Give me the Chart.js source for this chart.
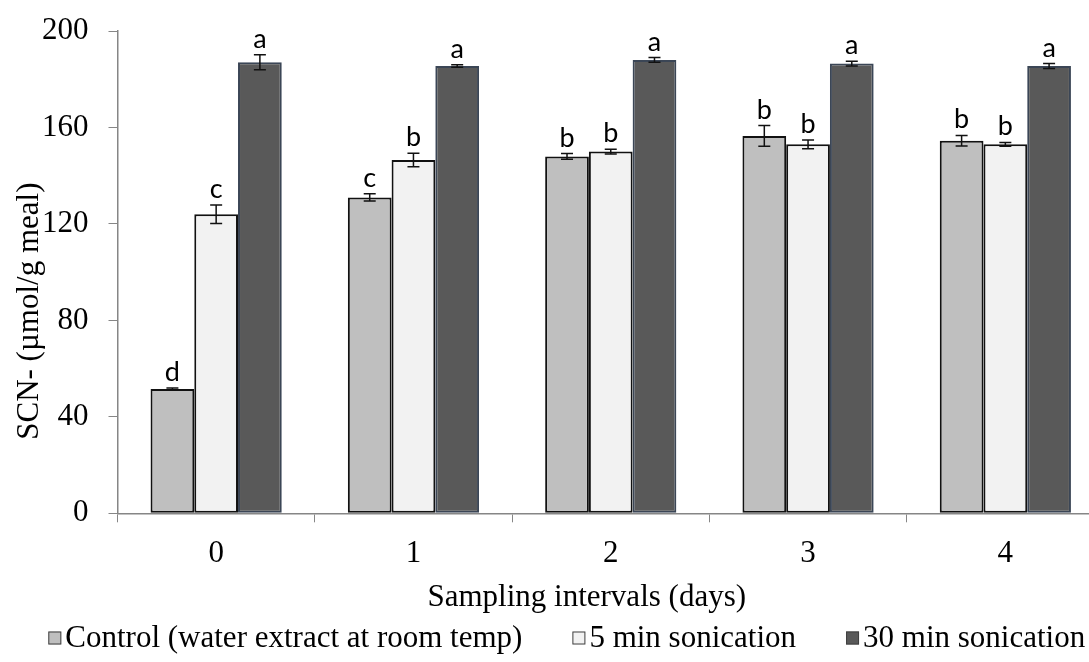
<!DOCTYPE html>
<html>
<head>
<meta charset="utf-8">
<title>SCN- over sampling intervals</title>
<script src="https://cdn.jsdelivr.net/npm/chart.js@4/dist/chart.umd.min.js"></script>
<style>
  html, body { margin: 0; padding: 0; background: #fff; overflow: hidden; }
  #wrap { width: 1104px; height: 662px; }
</style>
</head>
<body>
<div id="wrap"><canvas id="myChart"></canvas></div>
<script>
'use strict';

// ******* DATA *******

let days = ['0', '1', '2', '3', '4'];
let seriesNames = ['Control (water extract at room temp)', '5 min sonication', '30 min sonication'];

let controlVals = [51.5, 131, 148, 156.5, 154.5];
let fiveMinVals = [124, 146.5, 150, 153, 153];
let thirtyMinVals = [187, 185.5, 188, 186.5, 185.5];

let controlErr = [0.5, 1.5, 1.2, 4.3, 2.2];
let fiveMinErr = [3.8, 2.8, 1.0, 1.8, 0.8];
let thirtyMinErr = [3.1, 0.5, 1.0, 1.0, 1.0];

let controlLetters = ['d', 'c', 'b', 'b', 'b'];
let fiveMinLetters = ['c', 'b', 'b', 'b', 'b'];
let thirtyMinLetters = ['a', 'a', 'a', 'a', 'a'];

let yTicks = [0, 40, 80, 120, 160, 200];

let xTitle = 'Sampling intervals (days)';
let yTitle = 'SCN- (\u00b5mol/g meal)';


// ******* STYLE *******

let serif = "'Liberation Serif', 'Times New Roman', serif";
let axisGray = '#868686';
let textSize = 31;


// ******* PLUGINS *******

// error bars + significance letters on top of every bar
let errorBarPlugin = {
  id: 'errorBars',
  afterDatasetsDraw(chart) {
    let ctx = chart.ctx;
    let yScale = chart.scales.y;
    ctx.save();
    chart.data.datasets.forEach((ds, di) => {
      let meta = chart.getDatasetMeta(di);
      meta.data.forEach((bar, i) => {
        let v = ds.data[i];
        let e = ds.errors[i];
        let yTop = yScale.getPixelForValue(v + e);
        let yBot = yScale.getPixelForValue(v - e);
        let x = bar.x;
        ctx.strokeStyle = '#111';
        ctx.lineWidth = 1.5;
        ctx.beginPath();
        ctx.moveTo(x, yTop);
        ctx.lineTo(x, yBot);
        ctx.moveTo(x - 6, yTop);
        ctx.lineTo(x + 6, yTop);
        ctx.moveTo(x - 6, yBot);
        ctx.lineTo(x + 6, yBot);
        ctx.stroke();

        ctx.fillStyle = '#000';
        ctx.font = "27px Lato, 'Open Sans', sans-serif";
        ctx.textAlign = 'center';
        ctx.textBaseline = 'alphabetic';
        ctx.fillText(ds.letters[i], x, yTop - 7);
      });
    });
    ctx.restore();
  }
};

// axis titles and the bottom legend
let extrasPlugin = {
  id: 'extras',
  afterDraw(chart) {
    let ctx = chart.ctx;
    let area = chart.chartArea;
    let midX = (area.left + area.right) / 2;

    ctx.save();
    ctx.fillStyle = '#000';
    ctx.font = textSize + 'px ' + serif;
    ctx.textAlign = 'center';
    ctx.textBaseline = 'middle';
    ctx.fillText(xTitle, midX - 24, 598);
    ctx.translate(area.left - 88, (area.top + area.bottom) / 2 + 39);
    ctx.rotate(-Math.PI / 2);
    ctx.fillText(yTitle, 0, 0);
    ctx.restore();

    ctx.save();
    ctx.font = textSize + 'px ' + serif;
    ctx.textBaseline = 'middle';
    let box = 13;
    let gap = 4;
    let spacing = 50;
    let widths = chart.data.datasets.map(ds => box + gap + ctx.measureText(ds.label).width);
    let total = widths.reduce((a, b) => a + b, 0) + spacing * (widths.length - 1);
    let x = midX - 44 - total / 2;
    let y = 638;
    chart.data.datasets.forEach((ds, i) => {
      ctx.fillStyle = ds.backgroundColor;
      ctx.fillRect(x, y - box / 2, box, box);
      ctx.strokeStyle = '#404040';
      ctx.lineWidth = 1;
      ctx.strokeRect(x + 0.5, y - box / 2 + 0.5, box - 1, box - 1);
      ctx.fillStyle = '#000';
      ctx.textAlign = 'left';
      ctx.fillText(ds.label, x + box + gap, y + 1);
      x += widths[i] + spacing;
    });
    ctx.restore();
  }
};


// ******* CHART *******

const ctx = document.getElementById('myChart').getContext('2d');
const myChart = new Chart(ctx, {
  type: 'bar',
  data: {
    labels: days,
    datasets: [
      {
        label: seriesNames[0],
        data: controlVals,
        errors: controlErr,
        letters: controlLetters,
        backgroundColor: '#bfbfbf',
        borderColor: '#111',
        borderWidth: 2
      },
      {
        label: seriesNames[1],
        data: fiveMinVals,
        errors: fiveMinErr,
        letters: fiveMinLetters,
        backgroundColor: '#f2f2f2',
        borderColor: '#111',
        borderWidth: 2
      },
      {
        label: seriesNames[2],
        data: thirtyMinVals,
        errors: thirtyMinErr,
        letters: thirtyMinLetters,
        backgroundColor: '#595959',
        borderColor: '#3b4656',
        borderWidth: 2
      }
    ]
  },
  options: {
    responsive: true,
    maintainAspectRatio: false,
    animation: false,
    layout: {
      padding: { top: 31, left: 22, right: 0, bottom: 76.5 }
    },
    datasets: {
      bar: {
        categoryPercentage: 0.665,
        barPercentage: 1,
        borderSkipped: false
      }
    },
    plugins: {
      legend: { display: false },
      tooltip: { enabled: false }
    },
    scales: {
      x: {
        offset: true,
        grid: {
          display: true,
          offset: true,
          drawOnChartArea: false,
          drawTicks: true,
          tickLength: 9,
          color: axisGray
        },
        border: { color: axisGray, width: 1.5, z: 1 },
        ticks: {
          color: '#000',
          padding: 13,
          font: { family: serif, size: textSize }
        }
      },
      y: {
        min: 0,
        max: 200,
        afterBuildTicks(scale) {
          scale.ticks = yTicks.map(v => ({ value: v }));
        },
        afterFit(scale) {
          // let the layout padding alone decide where the plot starts and ends
          scale.paddingTop = 0;
          scale.paddingBottom = 0;
        },
        grid: {
          display: true,
          drawOnChartArea: false,
          drawTicks: true,
          tickLength: 9,
          color: axisGray
        },
        border: { color: axisGray, width: 1.5 },
        ticks: {
          color: '#000',
          padding: 20,
          font: { family: serif, size: textSize }
        }
      }
    }
  },
  plugins: [errorBarPlugin, extrasPlugin]
});
</script>
</body>
</html>
